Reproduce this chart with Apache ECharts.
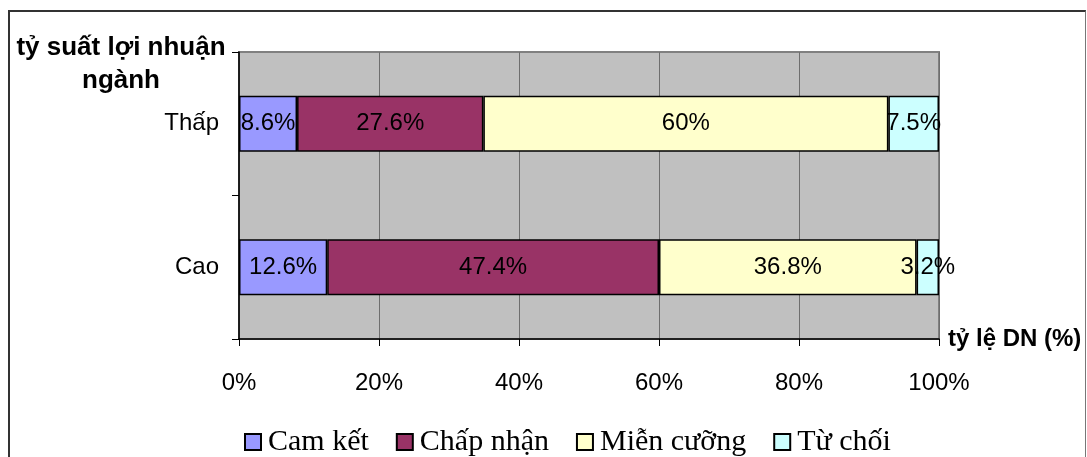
<!DOCTYPE html>
<html>
<head>
<meta charset="utf-8">
<script src="https://cdn.jsdelivr.net/npm/echarts@6/dist/echarts.min.js"></script>
<style>
  html, body { margin: 0; padding: 0; background: #fff; }
  #wrap { position: relative; width: 1087px; height: 457px; overflow: hidden; }
  #chart { position: absolute; left: 0; top: 0; width: 1087px; height: 457px; }
  #frame {
    position: absolute; left: 8px; top: 10px; width: 1075px; height: 470px;
    border-top: 2px solid #333; border-left: 2px solid #333; border-right: 1px solid #777;
    pointer-events: none;
  }
</style>
</head>
<body>
<div id="wrap">
  <div id="chart"></div>
  <div id="frame"></div>
</div>
<script>
// dữ liệu
var categories = ["Cao", "Thấp"];
var seriesNames = ["Cam kết", "Chấp nhận", "Miễn cưỡng", "Từ chối"];
var camKet = [12.6, 8.6];
var chapNhan = [47.4, 27.6];
var mienCuong = [36.8, 60];
var tuChoi = [3.2, 7.5];
var colors = ["#9999FF", "#993366", "#FFFFCC", "#CCFFFF"];
var xTicks = [0, 20, 40, 60, 80, 100];

var raw = [camKet, chapNhan, mienCuong, tuChoi];
// 100% stacked: chuẩn hoá theo tổng mỗi hàng
var totals = categories.map(function (c, i) {
  return raw.reduce(function (s, arr) { return s + arr[i]; }, 0);
});

var font = "'Liberation Sans', Arial, sans-serif";

var series = raw.map(function (arr, k) {
  return {
    name: seriesNames[k],
    type: "bar",
    stack: "total",
    barWidth: 56,
    data: arr.map(function (v, i) { return { value: v / totals[i] * 100, raw: v }; }),
    itemStyle: { color: colors[k], borderColor: "#000", borderWidth: 1.5 },
    label: {
      show: true,
      position: "inside",
      color: "#000",
      fontFamily: font,
      fontSize: 24,
      formatter: function (p) { return p.data.raw + "%"; }
    },
    animation: false
  };
});

var option = {
  animation: false,
  grid: {
    left: 239, top: 52, width: 700, height: 287,
    show: true, backgroundColor: "#C0C0C0", borderColor: "#808080", borderWidth: 2
  },
  xAxis: {
    type: "value",
    min: xTicks[0],
    max: xTicks[xTicks.length - 1],
    interval: 20,
    name: "tỷ lệ DN (%)",
    nameLocation: "end",
    nameGap: 9,
    nameTextStyle: { fontFamily: font, fontSize: 24, fontWeight: "bold", color: "#000", align: "left", verticalAlign: "middle", padding: [4, 0, 0, 0] },
    axisLine: { show: true, lineStyle: { color: "#000", width: 1.5 } },
    axisTick: { show: true, length: 7, lineStyle: { color: "#000" } },
    axisLabel: { fontFamily: font, fontSize: 24, color: "#000", margin: 32, formatter: "{value}%" },
    splitLine: { show: true, lineStyle: { color: "#6e6e6e", width: 1 } }
  },
  yAxis: {
    type: "category",
    data: categories,
    axisLine: { show: true, lineStyle: { color: "#000", width: 1.5 } },
    axisTick: { show: true, length: 7, lineStyle: { color: "#000" } },
    axisLabel: { fontFamily: font, fontSize: 24, color: "#000", margin: 20 },
    splitLine: { show: false }
  },
  legend: {
    left: 239,
    top: 422,
    icon: "rect",
    itemWidth: 16,
    itemHeight: 16,
    itemGap: 27,
    textStyle: { fontFamily: "'Liberation Serif', 'Times New Roman', serif", fontSize: 30, color: "#000", padding: [0, 0, 0, 2] },
    data: seriesNames
  },
  graphic: [
    {
      type: "text",
      x: 121,
      y: 48,
      style: {
        text: "tỷ suất lợi nhuận",
        font: "bold 26px 'Liberation Sans', Arial, sans-serif",
        fill: "#000",
        align: "center",
        verticalAlign: "middle"
      }
    },
    {
      type: "text",
      x: 121,
      y: 81,
      style: {
        text: "ngành",
        font: "bold 26px 'Liberation Sans', Arial, sans-serif",
        fill: "#000",
        align: "center",
        verticalAlign: "middle"
      }
    }
  ],
  series: series
};

var myChart = echarts.init(document.getElementById("chart"));
myChart.setOption(option);
</script>
</body>
</html>
